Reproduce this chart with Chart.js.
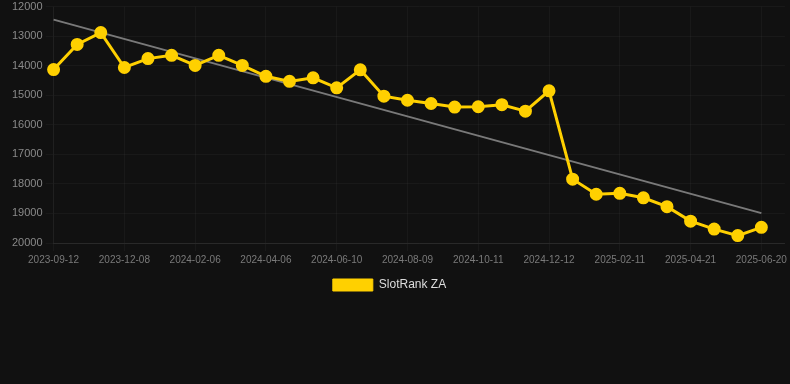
<!DOCTYPE html>
<html>
<head>
<meta charset="utf-8">
<script src="https://cdn.jsdelivr.net/npm/chart.js@4.4.1/dist/chart.umd.min.js"></script>
<style>
    html, body { margin: 0; padding: 0; background: #111111; overflow: hidden; }
    #wrap { width: 790px; height: 304px; margin-top: -3px; }
</style>
</head>
<body>
<div id="wrap"><canvas id="rankChart"></canvas></div>
<script>
// Chart data
const dates = [
    '2023-09-12', '2023-10-11', '2023-11-09', '2023-12-08', '2023-12-28', '2024-01-17',
    '2024-02-06', '2024-02-26', '2024-03-17', '2024-04-06', '2024-04-28', '2024-05-19',
    '2024-06-10', '2024-06-30', '2024-07-20', '2024-08-09', '2024-08-30', '2024-09-20',
    '2024-10-11', '2024-11-01', '2024-11-22', '2024-12-12', '2025-01-01', '2025-01-21',
    '2025-02-11', '2025-03-05', '2025-03-28', '2025-04-21', '2025-05-11', '2025-05-31',
    '2025-06-20', ''
];
const rankValues = [
    14130, 13280, 12880, 14060, 13760, 13650,
    13990, 13650, 13990, 14360, 14530, 14410,
    14750, 14140, 15030, 15170, 15280, 15400,
    15390, 15320, 15540, 14850, 17840, 18350,
    18320, 18470, 18770, 19260, 19530, 19750,
    19470, null
];
const trendStart = 12440;
const trendEnd = 18990;
const yTicks = [12000, 13000, 14000, 15000, 16000, 17000, 18000, 19000, 20000];

function buildTrend() {
    const t = dates.map(() => null);
    t[0] = trendStart;
    t[rankValues.length - 2] = trendEnd;
    return t;
}

// nudge the legend a little left of centre, like the original
const legendShift = {
    id: 'legendShift',
    afterLayout(chart) {
        if (chart.legend) {
            chart.legend.left -= 9;
            chart.legend.right -= 9;
        }
    }
};

function initializeRankChart() {
    const ctx = document.getElementById('rankChart').getContext('2d');
    const gridColor = 'rgba(255, 255, 255, 0.035)';
    new Chart(ctx, {
        type: 'line',
        data: {
            labels: dates,
            datasets: [
                {
                    label: 'SlotRank ZA',
                    data: rankValues,
                    borderColor: '#ffd000',
                    backgroundColor: '#ffd000',
                    borderWidth: 3,
                    pointRadius: 5,
                    pointHoverRadius: 6,
                    tension: 0
                },
                {
                    label: 'trend',
                    data: buildTrend(),
                    borderColor: 'rgba(140, 140, 140, 0.85)',
                    borderWidth: 2,
                    pointRadius: 0,
                    spanGaps: true
                }
            ]
        },
        options: {
            responsive: true,
            maintainAspectRatio: false,
            animation: false,
            layout: { autoPadding: false, padding: { top: 0, left: 9, right: 2 } },
            scales: {
                y: {
                    reverse: true,
                    min: 12000,
                    max: 20000,
                    afterBuildTicks: axis => { axis.ticks = yTicks.map(v => ({ value: v })); },
                    grid: { color: gridColor },
                    border: { color: gridColor },
                    ticks: {
                        color: '#8a8a8a',
                        font: { family: 'Liberation Sans, Arial', size: 11 },
                        callback: v => String(v)
                    }
                },
                x: {
                    grid: { color: gridColor },
                    border: { color: 'rgba(255, 255, 255, 0.07)' },
                    ticks: {
                        color: '#7a7a7a',
                        font: { family: 'Liberation Sans, Arial', size: 10 },
                        maxRotation: 0,
                        autoSkip: true,
                        autoSkipPadding: 10
                    }
                }
            },
            plugins: {
                legend: {
                    position: 'bottom',
                    labels: {
                        color: '#dddddd',
                        boxWidth: 40,
                        boxHeight: 12,
                        font: { family: 'Liberation Sans, Arial', size: 12 },
                        filter: item => item.text !== 'trend',
                        generateLabels: chart => Chart.defaults.plugins.legend.labels.generateLabels(chart)
                            .map(item => Object.assign(item, { lineWidth: 1 }))
                    }
                },
                tooltip: { enabled: false }
            }
        },
        plugins: [legendShift]
    });
}

document.addEventListener('DOMContentLoaded', () => {
    initializeRankChart();
});
</script>
</body>
</html>
